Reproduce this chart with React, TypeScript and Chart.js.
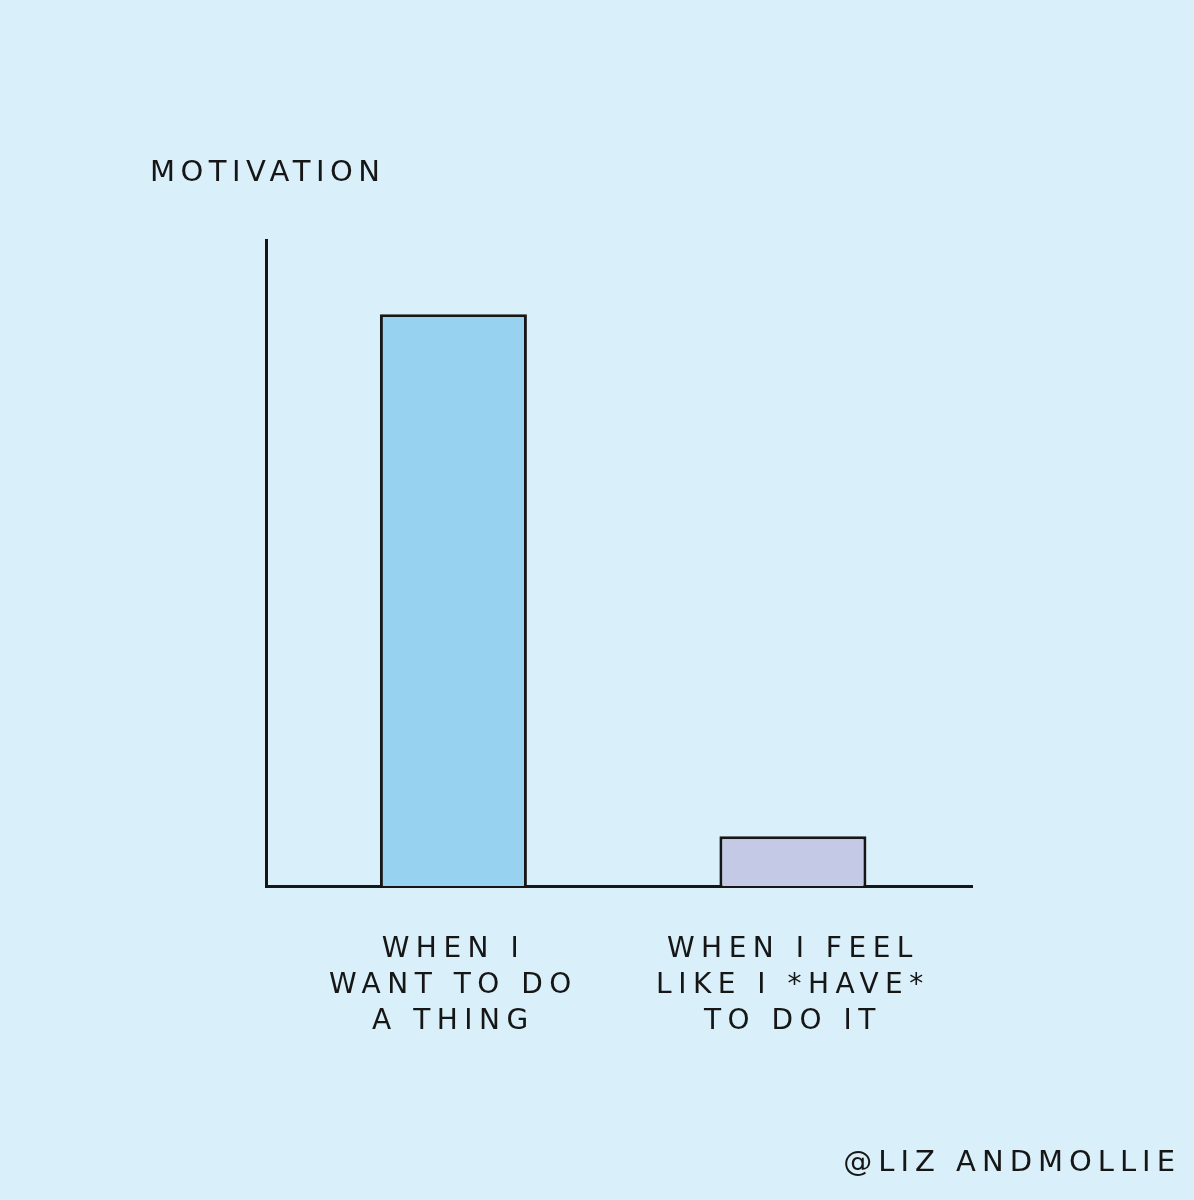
import React, { useEffect, useRef } from "react";
import { Chart, registerables } from "chart.js";

Chart.register(...registerables);

// ---- data ----
const categories: string[][] = [
  ["WHEN I", "WANT TO DO", "A THING"],
  ["WHEN I FEEL", "LIKE I *HAVE*", "TO DO IT"],
];
const positions = [1, 2];
const motivation = [88.5, 7.7];
const barColors = ["#97d3f0", "#c4c9e6"];
const yTitle = "MOTIVATION";
const credit = "@LIZ ANDMOLLIE";

const INK = "#161616";
const BG = "#d9eff9";
const FONT = "'DejaVu Sans', sans-serif";

const decor = {
  id: "decor",
  beforeDraw(chart: any) {
    const ctx = chart.ctx;
    ctx.save();
    ctx.fillStyle = BG;
    ctx.fillRect(0, 0, chart.width, chart.height);
    ctx.restore();
    ctx.letterSpacing = "6.5px";
  },
  afterDraw(chart: any) {
    const ctx = chart.ctx;
    const area = chart.chartArea;
    ctx.save();
    ctx.fillStyle = INK;
    ctx.font = `29px ${FONT}`;
    ctx.letterSpacing = "5.5px";
    ctx.textBaseline = "middle";
    ctx.textAlign = "left";
    ctx.fillText(yTitle, area.left - 116, area.top - 67);
    ctx.letterSpacing = "6px";
    ctx.textAlign = "right";
    ctx.fillText(credit, chart.width - 13, chart.height - 37);
    ctx.restore();
  },
};

export default function App() {
  const ref = useRef<HTMLCanvasElement | null>(null);
  useEffect(() => {
    document.body.style.background = BG;
    const canvas = ref.current!;
    const chart = new Chart(canvas, {
      type: "bar",
      data: {
        datasets: [
          {
            data: positions.map((x, i) => ({ x, y: motivation[i] })) as any,
            backgroundColor: barColors,
            borderColor: INK,
            borderWidth: 3,
            borderSkipped: "bottom",
            barPercentage: 0.433,
            categoryPercentage: 1,
          },
        ],
      },
      options: {
        animation: false,
        responsive: false,
        layout: { padding: { left: 150, top: 240, right: 222, bottom: 0 } },
        plugins: {
          legend: { display: false },
          tooltip: { enabled: false },
          title: { display: false },
        },
        scales: {
          x: {
            type: "linear",
            offset: false,
            min: 0.448,
            max: 2.5275,
            grid: { display: false, drawTicks: false, offset: false },
            border: { display: true, color: INK, width: 3 },
            afterBuildTicks: (s: any) => {
              s.ticks = positions.map((v) => ({ value: v }));
            },
            afterFit: (s: any) => {
              s.height = 314;
            },
            ticks: {
              autoSkip: false,
              maxRotation: 0,
              minRotation: 0,
              padding: 46,
              color: INK,
              font: { family: FONT, size: 28, lineHeight: 1.2857 },
              callback: (v: any) => {
                const i = positions.indexOf(Number(v));
                return i >= 0 ? categories[i] : "";
              },
            },
          },
          y: {
            min: 0,
            max: 100,
            grid: { display: false, drawTicks: false },
            border: { display: true, color: INK, width: 3 },
            ticks: { display: false },
            afterFit: (s: any) => {
              s.width = 116;
            },
          },
        },
      },
      plugins: [decor],
    });
    return () => chart.destroy();
  }, []);
  return (
    <div style={{ position: "fixed", left: 0, top: 0, width: 1194, height: 1200, background: BG }}>
      <canvas ref={ref} width={1194} height={1200} style={{ display: "block" }} />
    </div>
  );
}
